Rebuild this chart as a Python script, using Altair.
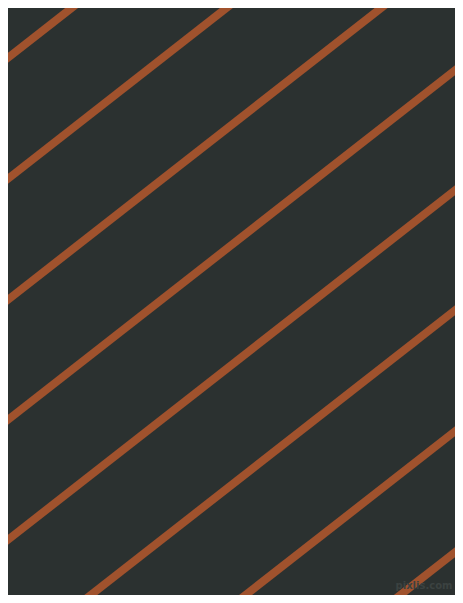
import altair as alt
import pandas as pd

# Diagonal stripes (page pixel coordinates)
x_left = [0, 0, 0, 0, 0, 0, 0, 0]
y_left = [64, 185, 306, 426, 546, 666, 787, 908]
x_right = [463, 463, 463, 463, 463, 463, 463, 463]
y_right = [-298, -177, -56, 64, 184, 304, 425, 546]

stripes = pd.DataFrame({"x": x_left, "y": y_left, "x2": x_right, "y2": y_right})
mark_df = pd.DataFrame({"x": [424], "y": [586], "t": ["pixlis.com"]})

BG = "#2B3130"
LINE = "#A0522D"

xs = alt.Scale(domain=[8, 455], nice=False, zero=False)
ys = alt.Scale(domain=[8, 595], nice=False, zero=False, reverse=True)

lines = alt.Chart(stripes).mark_rule(
    color=LINE, strokeWidth=8, strokeCap="butt", clip=True
).encode(
    x=alt.X("x:Q", scale=xs, axis=None),
    y=alt.Y("y:Q", scale=ys, axis=None),
    x2="x2:Q",
    y2="y2:Q",
)

wm = alt.Chart(mark_df).mark_text(
    color="#3B4241", fontSize=10, fontWeight="bold", font="DejaVu Sans",
    align="center", baseline="middle"
).encode(
    x=alt.X("x:Q", scale=xs, axis=None),
    y=alt.Y("y:Q", scale=ys, axis=None),
    text="t:N",
)

chart = (lines + wm).properties(
    width=447, height=587, background=BG, padding=0,
    autosize=alt.AutoSizeParams(type="none", contains="padding"),
).configure_view(stroke=None, fill=BG)

chart.save("out.html", embed_options={"renderer": "svg", "actions": False})
